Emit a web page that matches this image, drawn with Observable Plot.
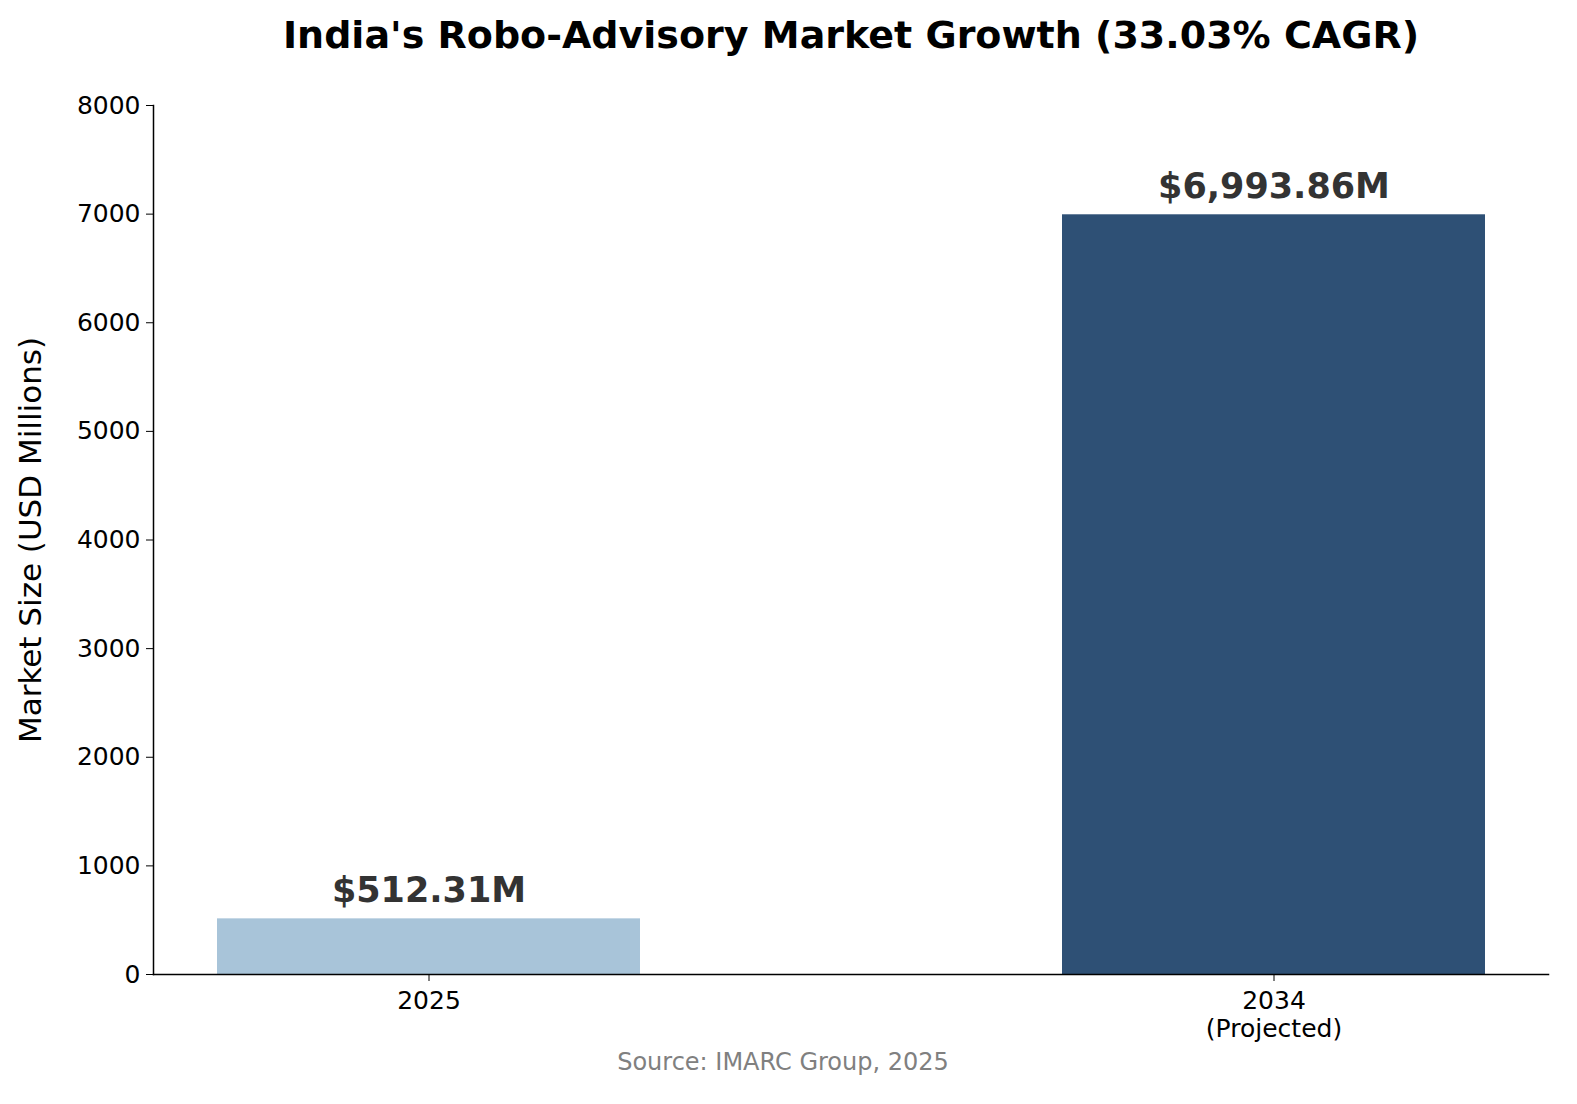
<!DOCTYPE html>
<html><head><meta charset="utf-8">
<script src="https://cdn.jsdelivr.net/npm/d3@7"></script>
<script src="https://cdn.jsdelivr.net/npm/@observablehq/plot@0.6"></script>
<style>
body{margin:0;background:#fff;font-family:"DejaVu Sans",sans-serif;}
#wrap{position:relative;width:1577px;height:1104px;}
#title{position:absolute;top:13px;left:0;width:1702px;text-align:center;font-weight:bold;font-size:38px;}
#chart{position:absolute;top:70px;left:0;}
#src{position:absolute;top:1048px;left:0;width:1566px;text-align:center;font-size:24px;color:#808080;}
</style></head><body>
<div id="wrap">
<div id="title">India's Robo-Advisory Market Growth (33.03% CAGR)</div>
<div id="chart"></div>
<div id="src">Source: IMARC Group, 2025</div>
</div>
<script>
const years = ["2025", "2034\n(Projected)"];
const values = [512.31, 6993.86];
const labels = ["$512.31M", "$6,993.86M"];
const colors = ["#a8c4d9", "#2e5075"];
const yTicks = [0,1000,2000,3000,4000,5000,6000,7000,8000];
const data = years.map((y,i)=>({year:y, value:values[i], label:labels[i], color:colors[i]}));
const plot = Plot.plot({
  width:1577, height:1050,
  marginTop:35, marginBottom:146, marginLeft:153, marginRight:29,
  style:{fontFamily:"DejaVu Sans", fontSize:"26px", color:"#000", overflow:"visible"},
  x:{domain:years, paddingInner:0.5, paddingOuter:0.075, label:null},
  y:{domain:[0,8000], label:"Market Size (USD Millions)"},
  marks:[
    Plot.barY(data,{x:"year", y:"value", fill:"color"}),
    Plot.text(data,{x:"year", y:"value", text:"label", dy:-28, fontSize:35, fontWeight:"bold", fill:"#333"}),
    Plot.axisY({ticks:yTicks, tickFormat:d3.format("d"), tickSize:7, tickPadding:6, fontSize:25, label:"Market Size (USD Millions)", labelAnchor:"center", labelArrow:"none", labelOffset:135}),
    Plot.axisX({tickSize:7, fontSize:25, label:null, tickPadding:8, lineHeight:1.1}),
    Plot.frame({anchor:"left", stroke:"#000", strokeWidth:1.5}),
    Plot.frame({anchor:"bottom", stroke:"#000", strokeWidth:1.5})
  ]
});
plot.querySelectorAll('[aria-label="y-axis label"] text').forEach(t=>t.style.fontSize="31px");
document.getElementById("chart").appendChild(plot);
</script>
</body></html>
